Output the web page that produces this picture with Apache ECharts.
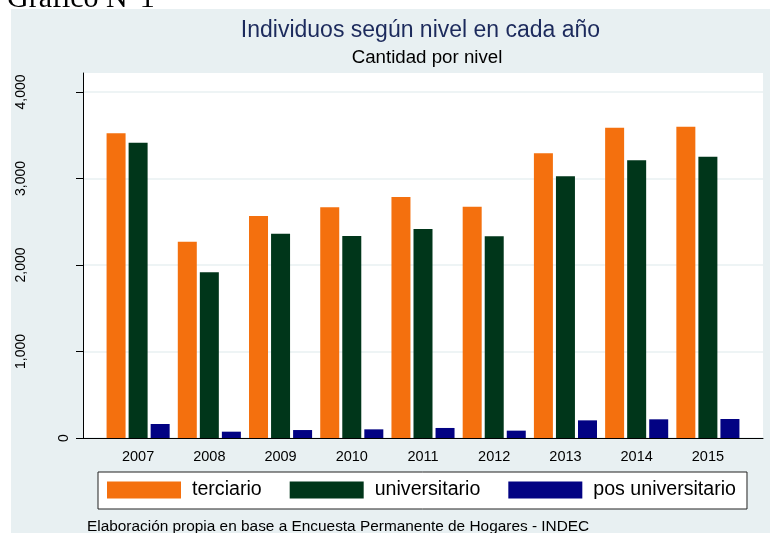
<!DOCTYPE html>
<html>
<head>
<meta charset="utf-8">
<script src="https://cdn.jsdelivr.net/npm/echarts@6/dist/echarts.min.js"></script>
<style>
  html, body { margin: 0; padding: 0; background: #fff; }
  #main { width: 770px; height: 533px; }
</style>
</head>
<body>
<div id="main"></div>
<script>
// datos
const years = ['2007', '2008', '2009', '2010', '2011', '2012', '2013', '2014', '2015'];
const terciario = [3523, 2270, 2566, 2667, 2786, 2674, 3291, 3587, 3599];
const universitario = [3414, 1916, 2362, 2335, 2416, 2332, 3025, 3210, 3252];
const posUniversitario = [162, 73, 92, 100, 116, 85, 204, 216, 220];
const yTicks = [0, 1000, 2000, 3000, 4000];

const FONT = 'Liberation Sans, Arial, sans-serif';
const chart = echarts.init(document.getElementById('main'), null, { renderer: 'canvas' });

function barSeries(name, data, color) {
  return {
    name: name,
    type: 'bar',
    xAxisIndex: 1,
    yAxisIndex: 1,
    data: data,
    barWidth: 19,
    barGap: '16%',
    itemStyle: { color: color },
    animation: false
  };
}

const option = {
  animation: false,
  textStyle: { fontFamily: FONT },
  graphic: [
    { type: 'text', z: -30, left: 7, top: -16,
      style: { text: 'Gráfico N°1', font: '30px "Liberation Serif", "Times New Roman", serif', fill: '#000' } },
    { type: 'rect', z: -20, shape: { x: 11, y: 9, width: 759, height: 524 },
      style: { fill: '#e8f0f2' } },
    { type: 'text', z: 10, x: 420.5, y: 30.5,
      style: { text: 'Individuos según nivel en cada año', font: '23px ' + FONT, fill: '#1c2a5c',
               align: 'center', verticalAlign: 'middle' } },
    { type: 'text', z: 10, x: 427, y: 57.5,
      style: { text: 'Cantidad por nivel', font: '18.7px ' + FONT, fill: '#000',
               align: 'center', verticalAlign: 'middle' } },
    { type: 'text', z: 10, x: 87, y: 527,
      style: { text: 'Elaboración propia en base a Encuesta Permanente de Hogares - INDEC', font: '15.4px ' + FONT, fill: '#000',
               align: 'left', verticalAlign: 'middle' } }
  ],
  legend: {
    left: 98,
    top: 472,
    padding: [8, 11, 9, 9],
    backgroundColor: '#fff',
    borderColor: '#222',
    borderWidth: 1,
    itemWidth: 74,
    itemHeight: 17,
    itemGap: 28,
    icon: 'rect',
    textStyle: { fontSize: 19.6, color: '#000', fontFamily: FONT, padding: [0, 0, 0, 6] },
    data: ['terciario', 'universitario', 'pos universitario']
  },
  grid: [
    { left: 83, top: 73, width: 680, height: 365, show: true, backgroundColor: '#fff', borderWidth: 0 },
    { left: 102.5, top: 73, width: 641, height: 365 }
  ],
  xAxis: [
    { type: 'value', gridIndex: 0, min: 0, max: 1,
      axisLine: { show: true, lineStyle: { color: '#000', width: 1 } },
      axisTick: { show: false }, axisLabel: { show: false }, splitLine: { show: false } },
    { type: 'category', gridIndex: 1, data: years,
      axisLine: { show: false }, axisTick: { show: false },
      axisLabel: { margin: 11, fontSize: 14.5, color: '#000', fontFamily: FONT } }
  ],
  yAxis: [
    { type: 'value', gridIndex: 0, min: 0, max: 4220,
      axisLine: { show: true, lineStyle: { color: '#000', width: 1 } },
      axisTick: { show: true, length: 7, customValues: yTicks, lineStyle: { color: '#000' } },
      splitLine: { show: true, lineStyle: { color: '#e8f0f2', width: 1.5 } },
      axisLabel: {
        rotate: 90, margin: 12, fontSize: 14, color: '#000', fontFamily: FONT,
        customValues: yTicks,
        formatter: function (v) {
          return v === 0 ? '0' : '{f|' + v.toLocaleString('en-US') + '}';
        },
        rich: { f: { fontSize: 14, color: '#000', fontFamily: FONT, padding: [0, 0, 43, 0] } }
      } },
    { type: 'value', gridIndex: 1, min: 0, max: 4220, show: false }
  ],
  series: [
    barSeries('terciario', terciario, '#f4700e'),
    barSeries('universitario', universitario, '#00361a'),
    barSeries('pos universitario', posUniversitario, '#020283')
  ]
};

chart.setOption(option);
</script>
</body>
</html>
